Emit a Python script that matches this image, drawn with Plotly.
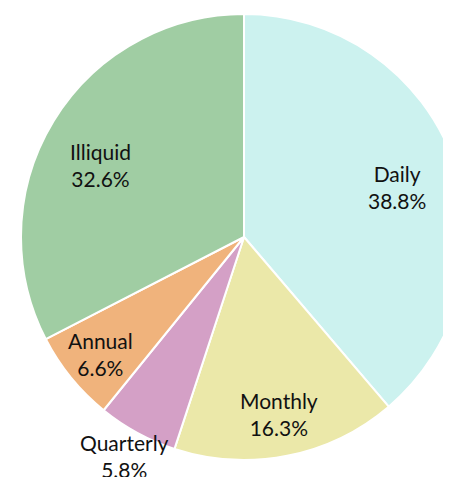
import math
import plotly.graph_objects as go

labels = ["Daily", "Monthly", "Quarterly", "Annual", "Illiquid"]
shares = [38.8, 16.3, 5.8, 6.6, 32.6]
colors = ["#CCF2EF", "#EBE8A9", "#D4A0C6", "#F0B37C", "#A0CDA3"]

# label placement: fraction of radius, and a small nudge (degrees) off the slice middle
label_radius = [0.72, 0.81, 1.12, 0.83, 0.72]
label_nudge = [2.0, 0.0, 0.0, 0.0, -4.7]

W, H = 490, 477
L, R, T, B = 12, 30, 6, 25
plot_w, plot_h = W - L - R, H - T - B
rad = min(plot_w, plot_h) / 2

fig = go.Figure(go.Pie(
    labels=labels,
    values=shares,
    sort=False,
    direction="clockwise",
    rotation=0,
    marker=dict(colors=colors, line=dict(color="white", width=2)),
    textinfo="none",
    showlegend=False,
    hoverinfo="label+value",
))

total = sum(shares)
cum = 0
for lab, v, rf, nd in zip(labels, shares, label_radius, label_nudge):
    mid = (cum + v / 2) / total * 2 * math.pi + math.radians(nd)
    cum += v
    dx = rf * rad * math.sin(mid)
    dy = rf * rad * math.cos(mid)
    fig.add_annotation(
        x=0.5 + dx / plot_w, y=0.5 + dy / plot_h,
        xref="paper", yref="paper",
        text=f"{lab}<br>{v:.1f}%",
        showarrow=False,
        xanchor="center", yanchor="middle",
        font=dict(family="Lato", size=21, color="#111111"),
    )

fig.update_layout(
    width=W,
    height=H,
    margin=dict(l=L, r=R, t=T, b=B),
    paper_bgcolor="white",
    font_family="Lato",
)

fig.write_html("out.html")
